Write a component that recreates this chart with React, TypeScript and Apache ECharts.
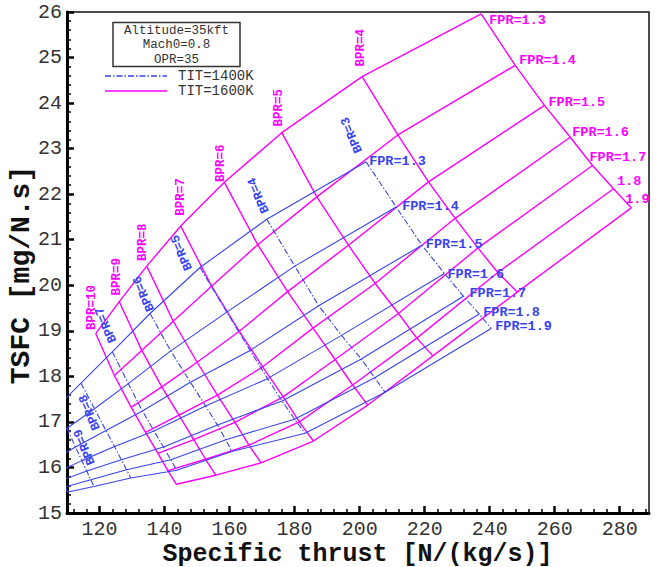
import React, { useEffect, useRef } from 'react';
import * as echarts from 'echarts';

// Fan pressure ratio (columns) and bypass ratio (rows)
const FPR = [1.3, 1.4, 1.5, 1.6, 1.7, 1.8, 1.9];
const FPR_LABELS_1600 = ['FPR=1.3', 'FPR=1.4', 'FPR=1.5', 'FPR=1.6', 'FPR=1.7', '1.8', '1.9'];
const FPR_LABELS_1400 = ['FPR=1.3', 'FPR=1.4', 'FPR=1.5', 'FPR=1.6', 'FPR=1.7', 'FPR=1.8', 'FPR=1.9'];

// TIT = 1600K
const BPR_1600 = [10, 9, 8, 7, 6, 5, 4, 3];
const ST_1600 = [
  [118.83, 124.58, 129.75, 134.15, 137.97, 141.02, 143.63],
  [126.09, 132.99, 139.17, 144.43, 148.98, 152.62, 155.75],
  [134.52, 142.68, 150.03, 156.25, 161.66, 165.97, 169.69],
  [144.98, 154.46, 162.99, 170.19, 176.49, 181.45, 185.78],
  [158.40, 168.65, 177.85, 185.66, 192.46, 197.85, 202.52],
  [176.06, 186.83, 196.56, 204.77, 211.94, 217.60, 222.52],
  [200.77, 211.75, 221.17, 229.38, 236.40, 242.49, 248.46],
  [237.39, 247.85, 256.86, 264.77, 271.63, 278.09, 283.54],
];
const TSFC_1600 = [
  [18.94, 18.02, 17.32, 16.77, 16.31, 15.93, 15.63],
  [19.64, 18.57, 17.77, 17.15, 16.61, 16.18, 15.83],
  [20.42, 19.21, 18.31, 17.59, 16.99, 16.49, 16.10],
  [21.30, 19.98, 18.99, 18.21, 17.55, 17.00, 16.58],
  [22.26, 20.89, 19.86, 19.06, 18.37, 17.81, 17.37],
  [23.35, 21.94, 20.88, 20.04, 19.38, 18.84, 18.45],
  [24.58, 23.30, 22.27, 21.47, 20.82, 20.28, 19.85],
  [25.96, 24.83, 23.95, 23.25, 22.63, 22.12, 21.70],
];

// TIT = 1400K (BPR=10 lies almost entirely left of the frame)
const BPR_1400 = [10, 9, 8, 7, 6, 5, 4, 3];
const ST_1400 = [
  [101.08, 103.54, 105.69, 107.23, 108.46, 109.38, 110.31],
  [106.92, 110.00, 112.62, 114.55, 116.09, 117.32, 118.31],
  [114.31, 118.46, 122.00, 124.62, 126.71, 128.31, 129.60],
  [123.94, 128.86, 133.20, 136.77, 139.69, 141.91, 143.75],
  [135.54, 141.91, 147.94, 152.62, 156.28, 158.86, 160.68],
  [150.92, 159.14, 166.31, 171.69, 176.15, 180.00, 183.23],
  [171.45, 180.06, 187.42, 194.43, 200.52, 204.62, 207.85],
  [202.00, 211.23, 219.14, 226.09, 231.94, 236.77, 240.46],
];
const TSFC_1400 = [
  [16.93, 16.49, 16.16, 15.90, 15.72, 15.57, 15.46],
  [17.33, 16.86, 16.45, 16.15, 15.92, 15.73, 15.58],
  [17.85, 17.29, 16.81, 16.46, 16.17, 15.95, 15.77],
  [18.54, 17.84, 17.24, 16.80, 16.45, 16.17, 15.94],
  [19.38, 18.56, 17.87, 17.35, 16.93, 16.61, 16.35],
  [20.39, 19.41, 18.57, 17.95, 17.46, 17.06, 16.75],
  [21.45, 20.42, 19.55, 18.90, 18.38, 17.97, 17.65],
  [22.71, 21.72, 20.88, 20.26, 19.76, 19.37, 19.05],
];

const X_TICKS = [120, 140, 160, 180, 200, 220, 240, 260, 280];
const X_MINOR = [112, 116, 124, 128, 132, 136, 144, 148, 152, 156, 164, 168, 172, 176, 184, 188, 192, 196,
  204, 208, 212, 216, 224, 228, 232, 236, 244, 248, 252, 256, 264, 268, 272, 276, 284, 288];

const INFO_LINES = ['Altitude=35kft', 'Mach0=0.8', 'OPR=35'];

const MAGENTA = '#ff00ff';
const BLUE = '#3844f0';
const MONO = '"Liberation Mono", "DejaVu Sans Mono", monospace';
const DASHDOT = [6, 2, 1.5, 2];

// label placement (pixel offsets from the FPR=1.3 node of a BPR line) : [bpr, dx, dy]
const MAG_BPR_LABEL_POS = [[10, -4, -26], [9, -2, -25], [8, -4, -24], [7, 0, -29], [6, -3, -19], [5, -3, -25], [4, -1, -29]];
const BLUE_BPR_LABEL_POS = [[9, 28, 40], [8, 9, 29], [7, -6, -27], [6, -6, -20], [5, -18, -15], [4, -8, -24], [3, -14, -27]];
const MAG_FPR_LABEL_OFF = [[8, 7], [4, -4.6], [4, -3], [2, -4.6], [-3, -8], [3.4, -7], [-6, -8.7]];
const BLUE_FPR_LABEL_OFF = [[3, 0], [6, 0], [4, -1], [3, 1], [6, -3], [4, -1], [4, -2]];

function carpet(bprs: number[], st: number[][], ts: number[][], color: string, width: number, bprDash: any, z: number) {
  const out: any[] = [];
  bprs.forEach((_, i) => {
    out.push({
      type: 'line', showSymbol: false, silent: true, z, clip: true,
      data: FPR.map((_, j) => [st[i][j], ts[i][j]]),
      lineStyle: { color, width, type: bprDash },
    });
  });
  FPR.forEach((_, j) => {
    out.push({
      type: 'line', showSymbol: false, silent: true, z, clip: true,
      data: bprs.map((_, i) => [st[i][j], ts[i][j]]),
      lineStyle: { color, width, type: 'solid' },
    });
  });
  return out;
}

function txt(x: number, y: number, text: string, color: string, font: string, align: string, rotation = 0) {
  const style: any = { text, fill: color, font, textAlign: align, textVerticalAlign: 'middle', align, verticalAlign: 'middle' };
  return { type: 'text', x, y, rotation, silent: true, z: 100, style };
}

export default function App() {
  const ref = useRef<HTMLDivElement>(null);
  useEffect(() => {
    if (!ref.current) return;
    const chart = echarts.init(ref.current, null, { renderer: 'svg' });
    const axisFont = { fontFamily: MONO, fontSize: 20, color: '#333' };
    chart.setOption({
      animation: false,
      backgroundColor: '#fff',
      grid: { left: 67, top: 12, right: 13, bottom: 54, show: true, borderColor: '#111', borderWidth: 1.5, backgroundColor: 'transparent' },
      xAxis: [
        {
          type: 'value', min: 110, max: 289, position: 'bottom',
          axisLine: { show: true, onZero: false, lineStyle: { color: '#000', width: 3 } },
          axisTick: { show: true, inside: true, length: 7, customValues: X_TICKS, lineStyle: { color: '#000', width: 2.5 } },
          axisLabel: { show: true, customValues: X_TICKS, margin: 6, ...axisFont },
          splitLine: { show: false },
        },
        {
          type: 'value', min: 110, max: 289, position: 'bottom',
          axisLine: { show: false },
          axisTick: { show: true, inside: true, length: 4, customValues: X_MINOR, lineStyle: { color: '#000', width: 1.5 } },
          axisLabel: { show: false },
          splitLine: { show: false },
        },
      ],
      yAxis: {
        type: 'value', min: 15, max: 26, interval: 1,
        axisLine: { show: true, onZero: false, lineStyle: { color: '#000', width: 3 } },
        axisTick: { show: true, inside: true, length: 7, lineStyle: { color: '#000', width: 2.5 } },
        minorTick: { show: true, splitNumber: 5, length: 4, lineStyle: { color: '#000', width: 1.5 } },
        axisLabel: { margin: 5, ...axisFont },
        splitLine: { show: false }, minorSplitLine: { show: false },
      },
      series: [
        ...carpet(BPR_1600, ST_1600, TSFC_1600, MAGENTA, 1.4, 'solid', 2),
        ...carpet(BPR_1400, ST_1400, TSFC_1400, BLUE, 1.1, DASHDOT, 3),
      ],
    });

    const px = (x: number, y: number) => chart.convertToPixel({ xAxisIndex: 0, yAxisIndex: 0 }, [x, y]) as number[];
    const g: any[] = [];
    const bprFont = 'bold 12.5px ' + MONO;
    const fprFont = 'bold 13.5px ' + MONO;
    MAG_BPR_LABEL_POS.forEach(([b, dx, dy]) => {
      const r = BPR_1600.indexOf(b);
      const p = px(ST_1600[r][0], TSFC_1600[r][0]);
      g.push(txt(p[0] + dx, p[1] + dy, 'BPR=' + b, MAGENTA, bprFont, 'center', Math.PI / 2));
    });
    BLUE_BPR_LABEL_POS.forEach(([b, dx, dy]) => {
      const r = BPR_1400.indexOf(b);
      const p = px(ST_1400[r][0], TSFC_1400[r][0]);
      g.push(txt(p[0] + dx, p[1] + dy, 'BPR=' + b, BLUE, bprFont, 'center', (113 * Math.PI) / 180));
    });
    const last16 = BPR_1600.length - 1;
    FPR.forEach((_, j) => {
      const p = px(ST_1600[last16][j], TSFC_1600[last16][j]);
      g.push(txt(p[0] + MAG_FPR_LABEL_OFF[j][0], p[1] + MAG_FPR_LABEL_OFF[j][1], FPR_LABELS_1600[j], MAGENTA, fprFont, 'left'));
    });
    const last14 = BPR_1400.length - 1;
    FPR.forEach((_, j) => {
      const p = px(ST_1400[last14][j], TSFC_1400[last14][j]);
      g.push(txt(p[0] + BLUE_FPR_LABEL_OFF[j][0], p[1] + BLUE_FPR_LABEL_OFF[j][1], FPR_LABELS_1400[j], BLUE, fprFont, 'left'));
    });
    // info box and legend
    g.push({ type: 'rect', z: 99, silent: true, shape: { x: 113, y: 22.5, width: 127, height: 44 }, style: { fill: '#fff', stroke: '#333', lineWidth: 1.5 } });
    INFO_LINES.forEach((t, i) => g.push(txt(176.5, 30.5 + i * 14.5, t, '#333', '12.5px ' + MONO, 'center')));
    g.push({ type: 'line', z: 99, silent: true, shape: { x1: 105, y1: 76, x2: 167, y2: 76 }, style: { stroke: BLUE, lineWidth: 1.3, lineDash: DASHDOT } });
    g.push({ type: 'line', z: 99, silent: true, shape: { x1: 105, y1: 91, x2: 167, y2: 91 }, style: { stroke: MAGENTA, lineWidth: 1.3 } });
    g.push(txt(178, 76, 'TIT=1400K', '#333', '14px ' + MONO, 'left'));
    g.push(txt(178, 91, 'TIT=1600K', '#333', '14px ' + MONO, 'left'));
    // axis titles
    g.push(txt(357.5, 554, 'Specific thrust [N/(kg/s)]', '#111', 'bold 25px ' + MONO, 'center'));
    g.push(txt(21, 275, 'TSFC [mg/N.s]', '#111', 'bold 28px ' + MONO, 'center', Math.PI / 2));
    chart.setOption({ graphic: g });

    return () => chart.dispose();
  }, []);
  return <div ref={ref} style={{ position: 'fixed', left: 0, top: 0, width: 662, height: 567, background: '#fff' }} />;
}
